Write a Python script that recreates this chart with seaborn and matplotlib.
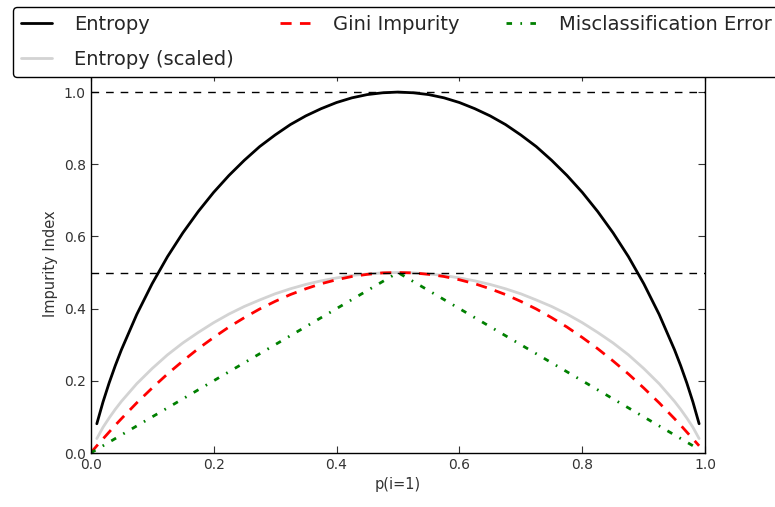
import numpy as np
import matplotlib
matplotlib.use("Agg")
import matplotlib.pyplot as plt
import seaborn as sns

# p(i=1) sample points
p_values = [0.0, 0.01, 0.02, 0.03, 0.04, 0.05, 0.075, 0.1, 0.125, 0.15, 0.175,
            0.2, 0.225, 0.25, 0.275, 0.3, 0.325, 0.35, 0.375, 0.4, 0.425, 0.45,
            0.475, 0.5, 0.525, 0.55, 0.575, 0.6, 0.625, 0.65, 0.675, 0.7, 0.725,
            0.75, 0.775, 0.8, 0.825, 0.85, 0.875, 0.9, 0.925, 0.95, 0.96, 0.97,
            0.98, 0.99]

entropy = [np.nan, 0.081, 0.141, 0.194, 0.242, 0.286, 0.384, 0.469, 0.544, 0.610,
           0.669, 0.722, 0.769, 0.811, 0.849, 0.881, 0.910, 0.934, 0.954, 0.971,
           0.984, 0.993, 0.998, 1.000, 0.998, 0.993, 0.984, 0.971, 0.954, 0.934,
           0.910, 0.881, 0.849, 0.811, 0.769, 0.722, 0.669, 0.610, 0.544, 0.469,
           0.384, 0.286, 0.242, 0.194, 0.141, 0.081]

entropy_scaled = [np.nan, 0.040, 0.071, 0.097, 0.121, 0.143, 0.192, 0.234, 0.272,
                  0.305, 0.334, 0.361, 0.385, 0.406, 0.424, 0.441, 0.455, 0.467,
                  0.477, 0.485, 0.492, 0.496, 0.499, 0.500, 0.499, 0.496, 0.492,
                  0.485, 0.477, 0.467, 0.455, 0.441, 0.424, 0.406, 0.385, 0.361,
                  0.334, 0.305, 0.272, 0.234, 0.192, 0.143, 0.121, 0.097, 0.071,
                  0.040]

gini = [0.0, 0.020, 0.039, 0.058, 0.077, 0.095, 0.139, 0.180, 0.219, 0.255, 0.289,
        0.320, 0.349, 0.375, 0.399, 0.420, 0.439, 0.455, 0.469, 0.480, 0.489,
        0.495, 0.499, 0.500, 0.499, 0.495, 0.489, 0.480, 0.469, 0.455, 0.439,
        0.420, 0.399, 0.375, 0.349, 0.320, 0.289, 0.255, 0.219, 0.180, 0.139,
        0.095, 0.077, 0.058, 0.039, 0.020]

misclass = [0.0, 0.01, 0.02, 0.03, 0.04, 0.05, 0.075, 0.1, 0.125, 0.15, 0.175,
            0.2, 0.225, 0.25, 0.275, 0.3, 0.325, 0.35, 0.375, 0.4, 0.425, 0.45,
            0.475, 0.5, 0.475, 0.45, 0.425, 0.4, 0.375, 0.35, 0.325, 0.3, 0.275,
            0.25, 0.225, 0.2, 0.175, 0.15, 0.125, 0.1, 0.075, 0.05, 0.04, 0.03,
            0.02, 0.01]

labels = ['Entropy', 'Entropy (scaled)', 'Gini Impurity', 'Misclassification Error']
colors = ['black', 'lightgray', 'red', 'green']
styles = ['-', '-', (0, (4, 3)), (0, (2, 3, 0.6, 3))]
ref_levels = [0.5, 1.0]

sns.set_style("ticks")
plt.rcParams['font.family'] = ['DejaVu Sans']
plt.rcParams['xtick.direction'] = 'in'
plt.rcParams['ytick.direction'] = 'in'
plt.rcParams['xtick.top'] = True
plt.rcParams['ytick.right'] = True

fig = plt.figure(figsize=(7.75, 5.07), dpi=100)
ax = fig.add_axes([0.117, 0.1065, 0.793, 0.7475])

for series, lab, c, ls in zip([entropy, entropy_scaled, gini, misclass], labels, colors, styles):
    sns.lineplot(x=p_values, y=series, ax=ax, color=c, linestyle=ls, lw=2,
                 label=lab, sort=False)

for lvl in ref_levels:
    ax.axhline(y=lvl, linewidth=1, color='k', linestyle=(0, (5.5, 5)))

ax.set_xlim(0, 1.0)
ax.set_ylim(0, 1.05)
ax.set_xticks([0.0, 0.2, 0.4, 0.6, 0.8, 1.0])
ax.set_yticks([0.0, 0.2, 0.4, 0.6, 0.8, 1.0])
ax.tick_params(labelsize=10, length=5, width=0.8, colors='#333333', labelcolor='#333333')
for sp in ax.spines.values():
    sp.set_color('black')
    sp.set_linewidth(1)
ax.set_xlabel('p(i=1)', fontsize=10.5, color='#333333')
ax.set_ylabel('Impurity Index', fontsize=10.5, color='#333333')

# legend sits above the axes, left edge near the figure edge, right side clipped
leg = ax.legend(loc='upper left', bbox_to_anchor=(-0.126, 1.177), ncol=3,
                fancybox=True, shadow=False, fontsize=14, frameon=True,
                handlelength=1.55, handletextpad=1.18, columnspacing=2.37,
                labelspacing=0.82, borderaxespad=0, borderpad=0.42)
leg.get_frame().set_edgecolor('black')
leg.get_frame().set_linewidth(1)
leg.get_frame().set_alpha(1)

fig.savefig('out.png', dpi=100)
